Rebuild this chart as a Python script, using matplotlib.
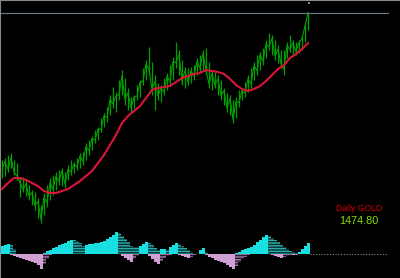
import numpy as np
import matplotlib.pyplot as plt

# 日线价格（每根柱的最高/最低/收盘）
high = [1254, 1257, 1261.5, 1264.5, 1254, 1249.5, 1227, 1228.5, 1224, 1216.5,
        1209, 1206, 1197, 1186.5, 1204.5, 1216.5, 1227, 1231.5, 1236, 1239,
        1242, 1236, 1246.5, 1254, 1251, 1257, 1264.5, 1266, 1279.5, 1284,
        1290, 1299, 1303.5, 1317, 1324.5, 1333.5, 1351.5, 1363.5, 1356, 1374,
        1389, 1377, 1362, 1348.5, 1351.5, 1366.5, 1374, 1392, 1404, 1423.5,
        1401, 1381.5, 1369.5, 1366.5, 1377, 1384.5, 1396.5, 1408.5, 1431, 1419,
        1404, 1393.5, 1392, 1393.5, 1396.5, 1407, 1411.5, 1419, 1422, 1401,
        1389, 1386, 1381.5, 1374, 1362, 1354.5, 1351.5, 1344, 1348.5, 1359,
        1362, 1371, 1381.5, 1392, 1401, 1411.5, 1416, 1422, 1434, 1444.5,
        1441.5, 1434, 1426.5, 1419, 1419, 1431, 1441.5, 1434, 1431, 1434,
        1441.5, 1461, 1476]
low = [1227, 1230, 1236, 1242, 1231.5, 1224, 1198.5, 1206, 1200, 1194,
       1186.5, 1179, 1167, 1159.5, 1171.5, 1183.5, 1194, 1201.5, 1209, 1216.5,
       1215, 1212, 1224, 1231.5, 1234.5, 1239, 1242, 1246.5, 1254, 1261.5,
       1269, 1279.5, 1284, 1296, 1303.5, 1311, 1321.5, 1332, 1326, 1344,
       1351.5, 1336.5, 1329, 1326, 1332, 1344, 1348.5, 1366.5, 1374, 1381.5,
       1351.5, 1329, 1344, 1341, 1351.5, 1359, 1366.5, 1374, 1392, 1381.5,
       1366.5, 1362, 1366.5, 1369.5, 1374, 1381.5, 1386, 1389, 1381.5, 1362,
       1359, 1362, 1351.5, 1344, 1336.5, 1326, 1321.5, 1309.5, 1317, 1333.5,
       1344, 1348.5, 1356, 1362, 1374, 1381.5, 1389, 1396.5, 1407, 1419,
       1411.5, 1404, 1399.5, 1392, 1381.5, 1407, 1416, 1411.5, 1411.5, 1414.5,
       1419, 1431, 1449]
close = [1240, 1252, 1240, 1258, 1236, 1230, 1220, 1210, 1218, 1200,
         1205, 1185, 1192, 1165, 1198, 1190, 1220, 1210, 1230, 1222,
         1238, 1218, 1240, 1236, 1248, 1244, 1260, 1252, 1274, 1268,
         1286, 1284, 1300, 1300, 1320, 1318, 1345, 1338, 1350, 1352,
         1380, 1345, 1355, 1332, 1348, 1350, 1370, 1372, 1398, 1390,
         1360, 1372, 1350, 1362, 1356, 1380, 1372, 1402, 1400, 1412,
         1372, 1388, 1370, 1388, 1380, 1402, 1392, 1414, 1388, 1368,
         1384, 1366, 1376, 1350, 1358, 1332, 1346, 1315, 1342, 1340,
         1358, 1354, 1376, 1368, 1396, 1388, 1412, 1402, 1428, 1424,
         1436, 1410, 1420, 1398, 1390, 1426, 1420, 1430, 1416, 1430,
         1436, 1455, 1474.8]

# 均线（每两根柱取一个点）
ma = [1210.5, 1219.5, 1227, 1227, 1224, 1219.5, 1215, 1207.5, 1204.5, 1204.5,
      1207.5, 1210.5, 1216.5, 1222.5, 1230, 1237.5, 1249.5, 1261.5, 1276.5, 1291.5,
      1309.5, 1320, 1327.5, 1335, 1347, 1359, 1362, 1363.5, 1365, 1371,
      1377, 1380, 1383, 1384.5, 1389, 1387.5, 1386, 1383, 1375.5, 1366.5,
      1360.5, 1357.5, 1360.5, 1365, 1372.5, 1381.5, 1390.5, 1396.5, 1407, 1413,
      1420.5, 1429.5]

last_price = 1474.80

# 底部震荡指标（正、负两组柱）
pos = [8.5, 9, 10, 9, 5, 0, 0, 0, 0, 0,
       0, 0, 0, 0, 1.5, 3, 4.5, 6, 7.5, 9,
       10, 11.5, 13, 14.5, 14, 13, 11, 8.5, 9, 10,
       10.5, 11, 11.5, 12, 13.5, 15, 17, 19.5, 22, 21,
       18.5, 15.5, 12, 8.5, 7, 7, 8, 10.5, 12.5, 11,
       9, 6.5, 4, 5, 5.5, 4.5, 7, 9, 11, 10,
       8, 6, 4, 2, 0.5, 0, 4, 6, 2, 0,
       0, 0, 0, 0, 0, 0, 0, 0, 1, 2.5,
       4, 5, 6, 7, 9, 12, 14.5, 17, 19, 18.5,
       16.5, 14.5, 12.5, 9.5, 7, 5, 3, 2, 1, 2.5,
       5, 8, 11]
neg = [0, 0, 0, -0.5, -1.5, -2.5, -3.5, -4.5, -5.5, -6.5,
       -7.5, -8.5, -11, -14.5, -10, -5, -1, 0, 0, 0,
       0, 0, 0, 0, 0, 0, 0, 0, 0, 0,
       0, 0, 0, 0, 0, 0, 0, 0, 0, 0,
       -1.5, -3.5, -5.5, -7.5, -5, -2, 0, 0, 0, -2,
       -5, -8, -10, -7, -4, -2, -0.5, 0, 0, -1,
       -2, -3, -4, -2.5, -1, 0, 0, 0, -1, -2.5,
       -4, -5.5, -6.5, -7.5, -9, -10.5, -13, -15, -12, -8,
       -5, -2.5, -0.5, 0, 0, 0, 0, 0, 0, 0,
       -1, -2, -3, -4, -3, -2, -0.5, -1, -0.5, 0,
       0, 0, 0]

fig = plt.figure(figsize=(4, 2.78), dpi=100, facecolor='black')

# 主图：价格柱 + 均线
ax = fig.add_axes([0, 0, 1, 1], facecolor='black')
idx = np.arange(len(high))
ax.vlines(idx, low, high, color='#00a000', lw=0.9)
ax.plot(idx, close, color='#00a000', lw=0.8)
ax.plot(np.arange(0, len(high), 2), ma, color='#dc143c', lw=1.5)
ax.axhline(last_price, xmin=0, xmax=388 / 400, color='#6c7a89', lw=0.8)
ax.plot(idx[-1] + 0.3, 1489.5, marker='s', ms=2, color='#7088a0', mew=0)
ax.set_xlim(-2 / 3, 398 / 3)
ax.set_ylim(1077, 1494)
ax.set_xticks([])
ax.set_yticks([])
for side in ['right', 'bottom']:
    ax.spines[side].set_visible(False)
for side in ['top', 'left']:
    ax.spines[side].set_color('#8a8a8a')
    ax.spines[side].set_linewidth(1.5)

ax.text(0.8975, 0.25, 'Daily GOLD', color='#d00000', fontsize=6.2,
        family='Liberation Sans', ha='center', va='center', transform=ax.transAxes)
ax.text(0.8975, 0.205, f'{last_price:.2f}', color='#88dd00', fontsize=7.8,
        family='Liberation Sans', ha='center', va='center', transform=ax.transAxes)

# 副图：柱状指标
ax2 = fig.add_axes([0, 0, 1, 1], facecolor='none')
pos = np.array(pos)
neg = np.array(neg)
pos_up = pos > np.r_[0, pos[:-1]]
neg_up = neg < np.r_[0, neg[:-1]]
ax2.bar(idx[pos_up], pos[pos_up], width=1, color='#18e0e0', lw=0)
ax2.bar(idx[~pos_up], pos[~pos_up], width=1, color='#0a2e2e', edgecolor='#25b0b0',
        hatch='------', lw=0)
ax2.bar(idx[neg_up], neg[neg_up], width=1, color='#d0a0d4', lw=0)
ax2.bar(idx[~neg_up], neg[~neg_up], width=1, color='#2a1a2a', edgecolor='#a07aa6',
        hatch='------', lw=0)
ax2.hlines(0, 308 / 3, 386 / 3, color='#909090', lw=0.8, linestyles=(0, (1, 1.5)))
ax2.set_xlim(-2 / 3, 398 / 3)
ax2.set_ylim(-24, 254)
ax2.axis('off')

fig.savefig('out.png', dpi=100, facecolor='black')
